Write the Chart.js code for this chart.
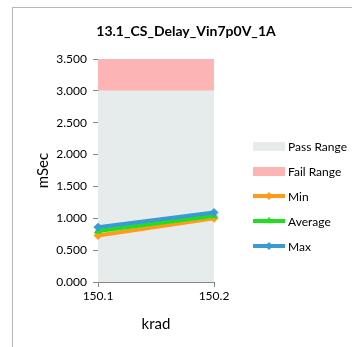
<!DOCTYPE html>
<html lang="en">
<head>
    <meta charset="UTF-8">
    <title>13.1_CS_Delay_Vin7p0V_1A</title>
    <script src="https://cdn.jsdelivr.net/npm/chart.js"></script>
    <style>
        body {
            margin: 0;
            background: #ffffff;
            overflow: hidden;
        }
        .frame {
            position: absolute;
            left: 12px;
            top: 7px;
            width: 400px;
            height: 400px;
            border-left: 1px solid #b7b7b7;
            border-top: 1px solid #b7b7b7;
        }
        #wrap {
            position: absolute;
            left: 0;
            top: 0;
            width: 352px;
            height: 347px;
        }
    </style>
</head>
<body>
    <div class="frame"></div>
    <div id="wrap"><canvas id="delayChart"></canvas></div>

    <script>
        const categories = ['150.1', '150.2'];
        const passRange = [3.0, 3.0];
        const failRange = [3.5, 3.5];
        const minValues = [0.73, 1.00];
        const avgValues = [0.80, 1.04];
        const maxValues = [0.86, 1.09];
        const yTicks = [0, 0.5, 1.0, 1.5, 2.0, 2.5, 3.0, 3.5];

        const FONT = 'Lato, "Liberation Sans", sans-serif';
        const axisGray = '#868686';
        const chartTitle = '13.1_CS_Delay_Vin7p0V_1A';

        // legend drawn in the right margin, Excel style
        const legendItems = [
            { text: 'Pass Range', type: 'box', color: '#e6ebeb' },
            { text: 'Fail Range', type: 'box', color: '#fcb4b4' },
            { text: 'Min', type: 'line', color: '#ff9a1a', marker: 'rectRot' },
            { text: 'Average', type: 'line', color: '#1ee01e', marker: 'triangle' },
            { text: 'Max', type: 'line', color: '#3a9ad4', marker: 'rectRot' }
        ];

        const sideLegend = {
            id: 'sideLegend',
            afterDraw(chart) {
                const ctx = chart.ctx;
                const x0 = 253, w = 32;
                ctx.save();
                // title, centred over the whole frame like excel does
                ctx.font = 'bold 14px ' + FONT;
                ctx.textAlign = 'center';
                ctx.textBaseline = 'middle';
                ctx.fillStyle = '#000';
                ctx.fillText(chartTitle, 186, 31);

                ctx.textAlign = 'left';
                ctx.font = '12px ' + FONT;
                legendItems.forEach((it, i) => {
                    const y = 146 + i * 25;
                    if (it.type === 'box') {
                        ctx.fillStyle = it.color;
                        ctx.fillRect(x0, y - 4, w, 9);
                    } else {
                        ctx.strokeStyle = it.color;
                        ctx.lineWidth = 4;
                        ctx.beginPath();
                        ctx.moveTo(x0, y);
                        ctx.lineTo(x0 + w, y);
                        ctx.stroke();
                        ctx.fillStyle = it.color;
                        ctx.lineWidth = 1;
                        Chart.helpers.drawPoint(ctx, {
                            pointStyle: it.marker, radius: 3.5, borderWidth: 1, rotation: 0
                        }, x0 + w / 2, y);
                    }
                    ctx.fillStyle = '#000';
                    ctx.fillText(it.text, x0 + w + 3, y + 1);
                });
                ctx.restore();
            }
        };

        const lineSet = (label, data, color, marker) => ({
            label: label,
            data: data,
            borderColor: color,
            backgroundColor: color,
            borderWidth: 4,
            pointStyle: marker,
            pointRadius: 4,
            pointBorderWidth: 1,
            pointBackgroundColor: color,
            pointBorderColor: color,
            fill: false,
            order: 0
        });

        const ctx = document.getElementById('delayChart').getContext('2d');
        new Chart(ctx, {
            type: 'line',
            data: {
                labels: categories,
                datasets: [
                    lineSet('Max', maxValues, '#3a9ad4', 'rectRot'),
                    lineSet('Average', avgValues, '#1ee01e', 'triangle'),
                    lineSet('Min', minValues, '#ff9a1a', 'rectRot'),
                    {
                        label: 'Pass Range',
                        data: passRange,
                        borderWidth: 0,
                        pointRadius: 0,
                        backgroundColor: '#e6ebeb',
                        fill: 'origin',
                        order: 2
                    },
                    {
                        label: 'Fail Range',
                        data: failRange,
                        borderWidth: 0,
                        pointRadius: 0,
                        backgroundColor: '#fcb4b4',
                        fill: '-1',
                        order: 2
                    }
                ]
            },
            options: {
                responsive: true,
                maintainAspectRatio: false,
                animation: false,
                layout: { padding: { left: 0, right: 138, top: 59, bottom: 0 } },
                plugins: {
                    legend: { display: false },
                    tooltip: { enabled: false },
                    title: { display: false },
                    filler: { drawTime: 'beforeDatasetsDraw' }
                },
                scales: {
                    x: {
                        offset: false,
                        grid: {
                            drawOnChartArea: false,
                            drawTicks: true,
                            tickLength: 5,
                            color: axisGray
                        },
                        border: { display: true, color: axisGray, width: 1 },
                        ticks: {
                            color: '#000',
                            padding: 2,
                            maxRotation: 0,
                            font: { family: FONT, size: 12 }
                        },
                        title: {
                            display: true,
                            text: 'krad',
                            color: '#000',
                            font: { family: FONT, size: 15 },
                            padding: { top: 4, bottom: 14 }
                        },
                        afterFit(scale) { scale.height = 65; }
                    },
                    y: {
                        min: 0,
                        max: 3.5,
                        afterBuildTicks(scale) {
                            scale.ticks = yTicks.map(v => ({ value: v }));
                        },
                        grid: {
                            drawOnChartArea: false,
                            drawTicks: true,
                            tickLength: 5,
                            color: axisGray
                        },
                        border: { display: true, color: axisGray, width: 1 },
                        ticks: {
                            color: '#000',
                            padding: 6,
                            font: { family: FONT, size: 12 },
                            callback: v => Number(v).toFixed(3)
                        },
                        title: {
                            display: true,
                            text: 'mSec',
                            color: '#000',
                            font: { family: FONT, size: 15 },
                            padding: { top: 34, bottom: 4 }
                        },
                        afterFit(scale) { scale.width = 98; }
                    }
                }
            },
            plugins: [sideLegend]
        });
    </script>
</body>
</html>
